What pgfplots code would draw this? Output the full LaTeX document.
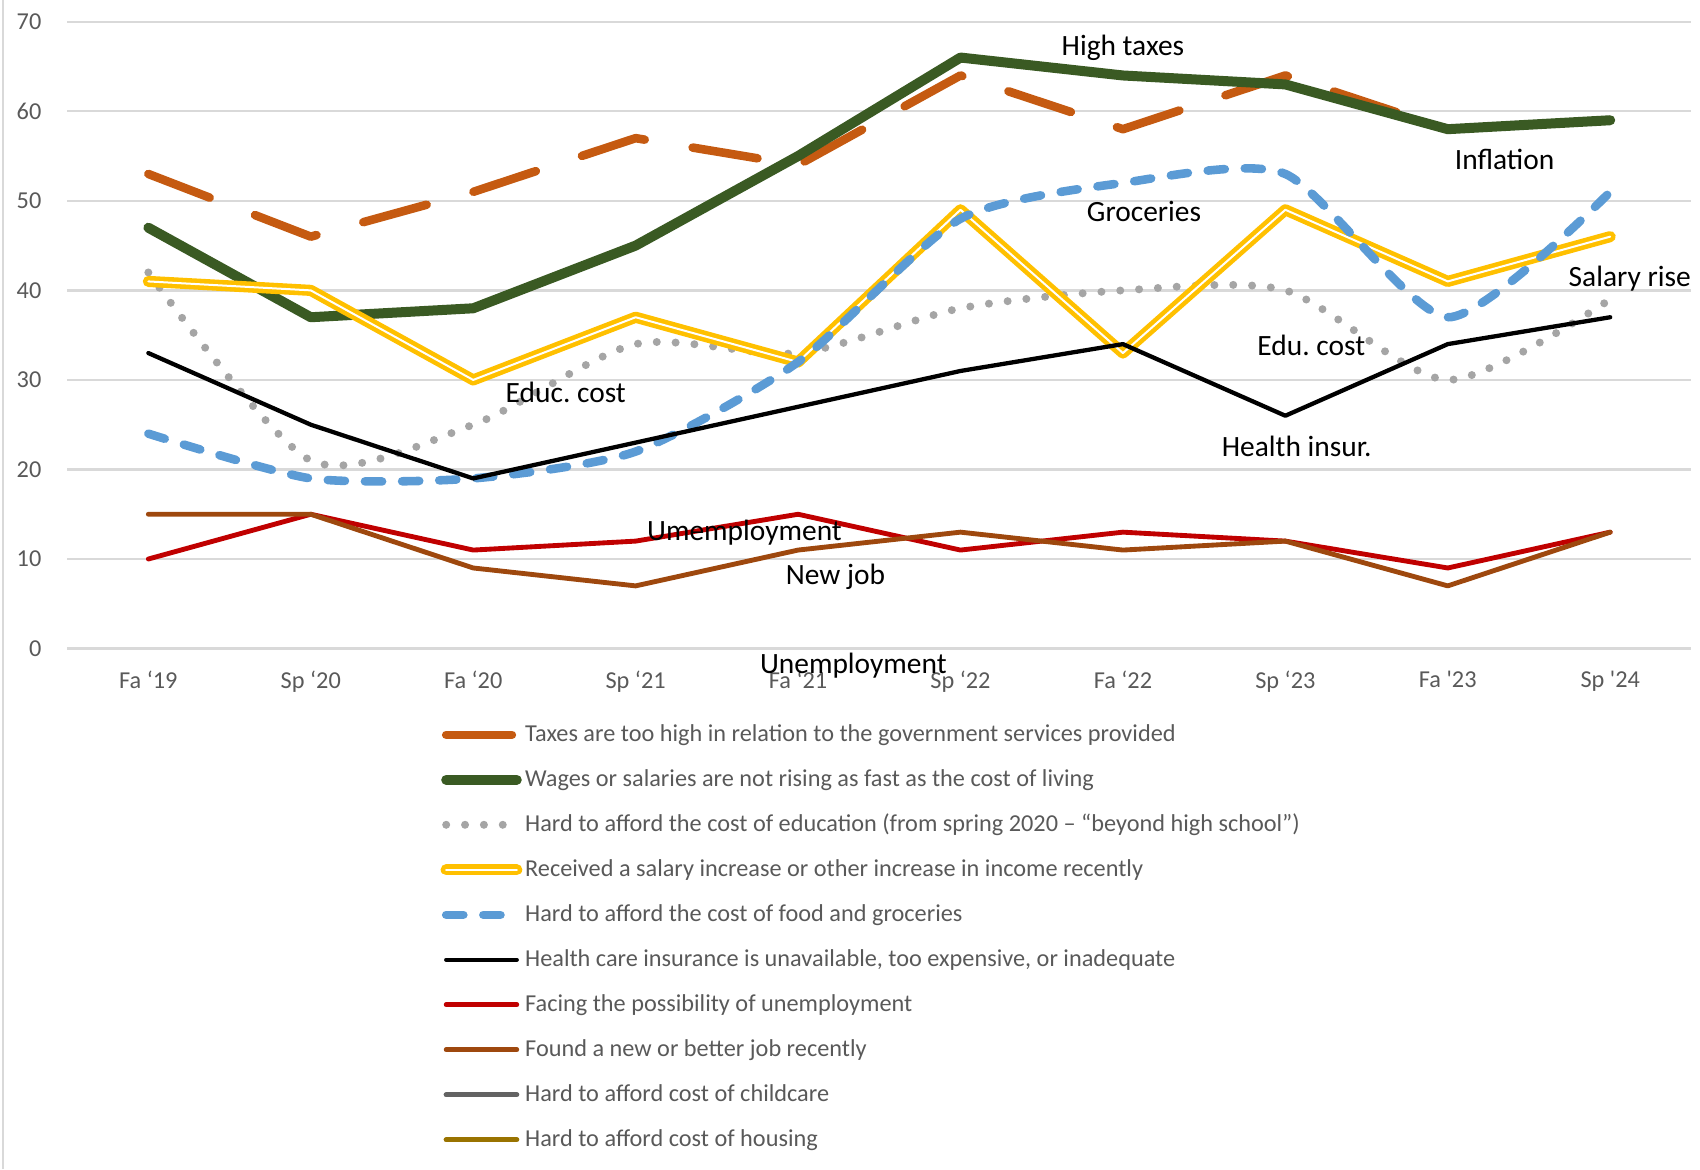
\documentclass[border=0pt]{standalone}
\usepackage{fontspec}
\setmainfont{Carlito}
\usepackage{pgfplots}
\pgfplotsset{compat=1.18}

\definecolor{ctaxes}{HTML}{C55A11}
\definecolor{cwages}{HTML}{3A5A23}
\definecolor{cedu}{HTML}{A5A5A5}
\definecolor{csalary}{HTML}{FFC000}
\definecolor{cfood}{HTML}{5B9BD5}
\definecolor{cunemp}{HTML}{C00000}
\definecolor{cjob}{HTML}{9E480E}
\definecolor{cchild}{HTML}{636363}
\definecolor{chouse}{HTML}{997300}
\definecolor{gridgray}{HTML}{D9D9D9}
\definecolor{textgray}{HTML}{595959}

\begin{document}
\begin{tikzpicture}
\begin{axis}[
    scale only axis,
    width=568.5pt, height=219.4pt,
    xmin=-0.5, xmax=9.5, ymin=0, ymax=70,
    xtick={0,...,9},
    xticklabels={Fa ‘19, Sp ‘20, Fa ‘20, Sp ‘21, Fa ‘21, Sp ‘22, Fa ‘22, Sp ‘23, Fa \textquotesingle23, Sp \textquotesingle24},
    ytick={0,10,...,70},
    ymajorgrids,
    grid style={draw=gridgray, line width=0.8pt},
    axis line style={draw=none},
    major tick length=0pt,
    tick label style={font=\fontsize{8.5}{10}\selectfont, text=textgray},
    /pgf/number format/assume math mode=true,
    xticklabel style={yshift=-4.3pt},
    yticklabel style={xshift=-5.5pt},
    clip=false,
    every axis plot/.append style={line join=round, line cap=round},
    legend cell align=left,
    legend style={at={(0.2243,-0.107)}, anchor=north west, draw=none, fill=none,
        font=\fontsize{8.5}{10}\selectfont, text=textgray, row sep=6.75pt,
        nodes={text height=7pt, text depth=2pt, inner ysep=0pt, inner xsep=1pt}},
    legend image code/.code={\draw[#1, sharp plot] (0pt,0pt) -- (24.7pt,0pt);},
]
% taxes too high
\addplot[ctaxes, line width=3pt, dash pattern=on 23pt off 17pt] coordinates {
(0,53) (1,46) (2,51) (3,57) (4,54) (5,64) (6,58) (7,64) (8,58) (9,59)};
\addlegendentry{Taxes are too high in relation to the government services provided}
% wages
\addplot[cwages, line width=3.5pt] coordinates {
(0,47) (1,37) (2,38) (3,45) (4,55) (5,66) (6,64) (7,63) (8,58) (9,59)};
\addlegendentry{Wages or salaries are not rising as fast as the cost of living}
% education
\addplot[cedu, line width=2.8pt, dash pattern=on 0pt off 6.6pt, smooth, tension=0.45] coordinates {
(0,42) (1,21) (2,25) (3,34) (4,33) (5,38) (6,40) (7,40) (8,30) (9,39)};
\addlegendentry{Hard to afford the cost of education (from spring 2020 – “beyond high school”)}
% salary increase
\addplot[csalary, line width=1.6pt, double=white, double distance=0.7pt] coordinates {
(0,41) (1,40) (2,30) (3,37) (4,32) (5,49) (6,33) (7,49) (8,41) (9,46)};
\addlegendentry{Received a salary increase or other increase in income recently}
% food
\addplot[cfood, line width=3pt, dash pattern=on 6pt off 7pt, smooth, tension=0.4] coordinates {
(0,24) (1,19) (2,19) (3,22) (4,32) (5,48) (6,52) (7,53) (8,37) (9,51)};
\addlegendentry{Hard to afford the cost of food and groceries}
% health insurance
\addplot[black, line width=1.5pt] coordinates {
(0,33) (1,25) (2,19) (3,23) (4,27) (5,31) (6,34) (7,26) (8,34) (9,37)};
\addlegendentry{Health care insurance is unavailable, too expensive, or inadequate}
% unemployment
\addplot[cunemp, line width=1.7pt] coordinates {
(0,10) (1,15) (2,11) (3,12) (4,15) (5,11) (6,13) (7,12) (8,9) (9,13)};
\addlegendentry{Facing the possibility of unemployment}
% new job
\addplot[cjob, line width=1.7pt] coordinates {
(0,15) (1,15) (2,9) (3,7) (4,11) (5,13) (6,11) (7,12) (8,7) (9,13)};
\addlegendentry{Found a new or better job recently}
\addlegendimage{cchild, line width=1.8pt, line cap=round}
\addlegendentry{Hard to afford cost of childcare}
\addlegendimage{chouse, line width=1.8pt, line cap=round}
\addlegendentry{Hard to afford cost of housing}

\begin{scope}[every node/.style={font=\fontsize{10.3}{12}\selectfont, text=black}]
\node at (axis cs:6.0,67.1) {High taxes};
\node at (axis cs:8.35,54.6) {Inflation};
\node at (axis cs:6.13,48.8) {Groceries};
\node at (axis cs:9.12,41.3) {Salary rise};
\node at (axis cs:7.16,33.8) {Edu.\ cost};
\node at (axis cs:2.57,28.6) {Educ.\ cost};
\node at (axis cs:7.07,22.6) {Health insur.};
\node at (axis cs:3.67,13.0) {Umemployment};
\node at (axis cs:4.23,8.0) {New job};
\node at (axis cs:4.34,-1.94) {Unemployment};
\end{scope}
\end{axis}
\draw[gridgray, line width=0.8pt] (-22.4pt,-182.2pt) -- (-22.4pt,227pt);
\pgfresetboundingbox
\useasboundingbox (-23.5pt,-182.2pt) rectangle (571.5pt,227pt);
\end{tikzpicture}
\end{document}
